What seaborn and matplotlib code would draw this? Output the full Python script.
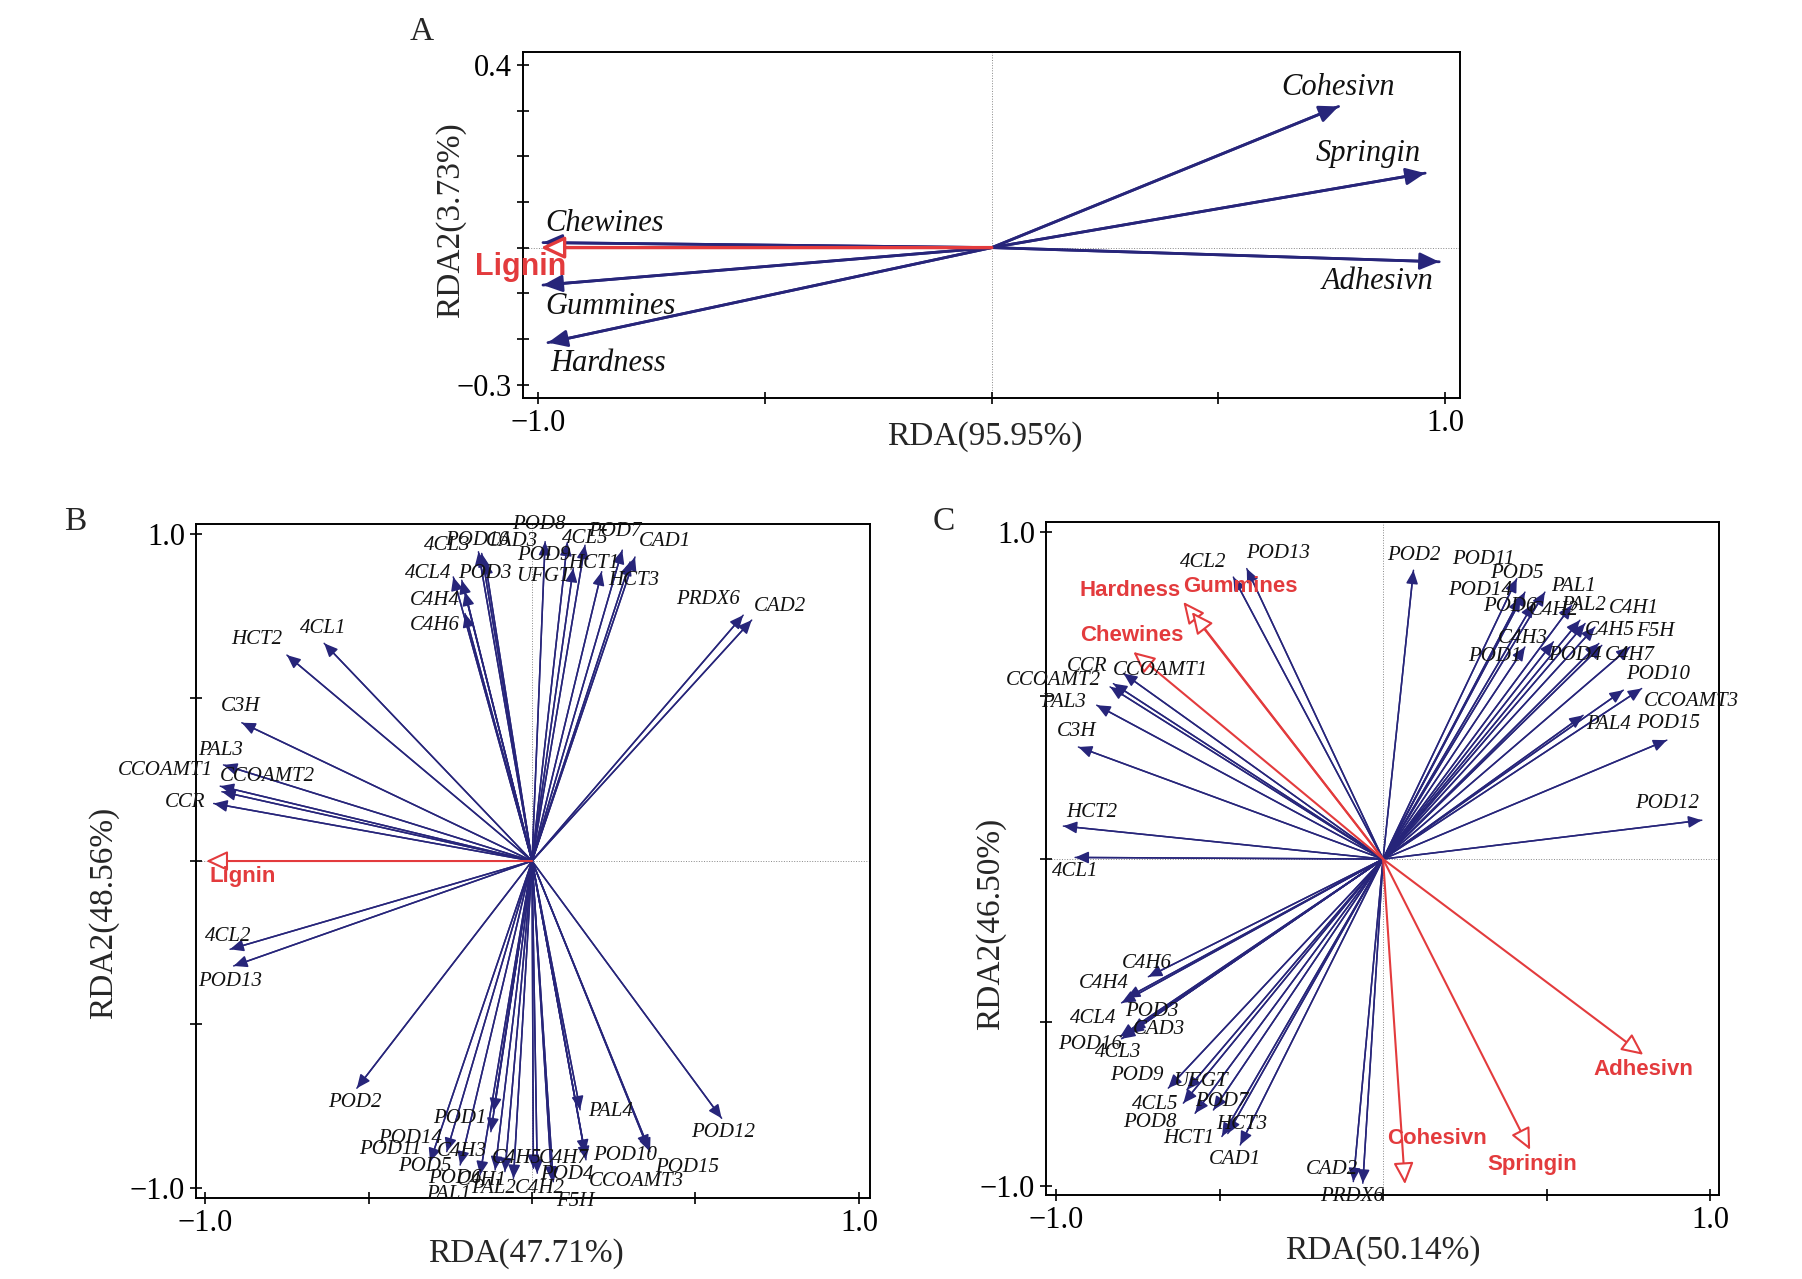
import pandas as pd
import matplotlib
matplotlib.use('Agg')
import matplotlib.pyplot as plt
import seaborn as sns

NAVY = '#27257a'
RED = '#e33b3d'

# ---------------- Panel A ----------------
a_names = ['Cohesivn', 'Springin', 'Adhesivn', 'Chewines', 'Gummines', 'Hardness']
a_x = [0.765, 0.956, 0.987, -0.99, -0.99, -0.979]
a_y = [0.309, 0.163, -0.031, 0.011, -0.082, -0.208]
a_lab_x = [0.764, 0.83, 0.852, -0.854, -0.842, -0.846]
a_lab_y = [0.35, 0.206, -0.075, 0.053, -0.13, -0.254]
a_red_names = ['Lignin']
a_red_x = [-0.995]
a_red_y = [0.0]
a_red_lab_x = [-1.04]
a_red_lab_y = [-0.042]

# ---------------- Panel B ----------------
b_names = ['HCT2', '4CL1', 'C3H', 'PAL3', 'CCOAMT1', 'CCOAMT2', 'CCR', '4CL2', 'POD13',
           '4CL4', 'POD3', 'C4H4', 'C4H6', '4CL3', 'POD16', 'CAD3', 'POD8', 'POD9',
           '4CL5', 'UFGT', 'HCT1', 'POD7', 'CAD1', 'HCT3', 'PRDX6', 'CAD2',
           'POD2', 'POD12', 'POD10', 'POD15', 'PAL4', 'C4H7', 'CCOAMT3', 'POD4',
           'F5H', 'C4H2', 'C4H5', 'PAL2', 'C4H1', 'POD6', 'PAL1', 'POD5', 'C4H3',
           'POD1', 'POD14', 'POD11']
b_x = [-0.750, -0.636, -0.888, -0.944, -0.954, -0.949, -0.974, -0.924, -0.913,
       -0.241, -0.215, -0.205, -0.205, -0.164, -0.154, -0.144, 0.040, 0.108,
       0.162, 0.126, 0.213, 0.276, 0.315, 0.300, 0.646, 0.672,
       -0.536, 0.580, 0.361, 0.355, 0.147, 0.162, 0.165, 0.065,
       0.060, 0.004, 0.016, -0.057, -0.083, -0.113, -0.159, -0.220, -0.126,
       -0.118, -0.261, -0.312]
b_y = [0.630, 0.666, 0.423, 0.294, 0.229, 0.212, 0.176, -0.270, -0.321,
       0.869, 0.859, 0.823, 0.757, 0.946, 0.941, 0.920, 0.977, 0.975,
       0.966, 0.895, 0.885, 0.951, 0.930, 0.915, 0.752, 0.737,
       -0.695, -0.787, -0.889, -0.880, -0.761, -0.894, -0.914, -0.981,
       -0.976, -0.940, -0.955, -0.971, -0.950, -0.945, -0.960, -0.930, -0.828,
       -0.767, -0.889, -0.920]
b_lab_x = [-0.842, -0.638, -0.893, -0.954, -1.122, -0.811, -1.061, -0.929, -0.924,
           -0.317, -0.144, -0.297, -0.297, -0.261, -0.169, -0.062, 0.022, 0.035,
           0.162, 0.035, 0.188, 0.254, 0.407, 0.310, 0.540, 0.760,
           -0.541, 0.585, 0.284, 0.473, 0.239, 0.096, 0.320, 0.106,
           0.131, 0.024, -0.047, -0.118, -0.154, -0.235, -0.256, -0.327, -0.215,
           -0.220, -0.373, -0.434]
b_lab_y = [0.679, 0.711, 0.472, 0.339, 0.278, 0.260, 0.178, -0.231, -0.369,
           0.879, 0.879, 0.798, 0.722, 0.966, 0.982, 0.977, 1.031, 0.936,
           0.987, 0.869, 0.910, 1.007, 0.977, 0.859, 0.800, 0.780,
           -0.739, -0.831, -0.902, -0.938, -0.765, -0.910, -0.981, -0.960,
           -1.042, -1.001, -0.910, -1.001, -0.976, -0.971, -1.021, -0.935, -0.889,
           -0.787, -0.848, -0.882]
b_red_names = ['Lignin']
b_red_x = [-0.997]
b_red_y = [0.0]
b_red_lab_x = [-0.885]
b_red_lab_y = [-0.048]

# ---------------- Panel C ----------------
c_names = ['4CL2', 'POD13', 'POD2', 'POD11', 'POD5', 'POD14', 'PAL1', 'POD6', 'C4H2',
           'PAL2', 'C4H1', 'C4H3', 'C4H5', 'F5H', 'POD1', 'POD4', 'C4H7', 'POD10',
           'CCOAMT3', 'PAL4', 'POD15', 'POD12', 'CCR', 'CCOAMT1', 'CCOAMT2', 'PAL3',
           'C3H', 'HCT2', '4CL1', 'C4H6', 'C4H4', '4CL4', 'POD3', 'CAD3', 'POD16',
           '4CL3', 'POD9', 'UFGT', '4CL5', 'POD7', 'POD8', 'HCT1', 'HCT3', 'CAD1',
           'CAD2', 'PRDX6']
c_x = [-0.458, -0.417, 0.093, 0.409, 0.434, 0.420, 0.495, 0.460, 0.577,
       0.602, 0.618, 0.521, 0.648, 0.660, 0.434, 0.669, 0.755, 0.735,
       0.791, 0.612, 0.868, 0.975, -0.794, -0.825, -0.835, -0.876,
       -0.932, -0.978, -0.942, -0.718, -0.785, -0.800, -0.774, -0.770, -0.804,
       -0.800, -0.657, -0.600, -0.611, -0.519, -0.575, -0.493, -0.475, -0.437,
       -0.091, -0.062]
c_y = [0.863, 0.889, 0.884, 0.858, 0.817, 0.800, 0.817, 0.782, 0.777,
       0.731, 0.721, 0.665, 0.710, 0.660, 0.649, 0.654, 0.649, 0.517,
       0.522, 0.440, 0.364, 0.119, 0.568, 0.537, 0.527, 0.471,
       0.343, 0.101, 0.005, -0.360, -0.425, -0.440, -0.533, -0.525, -0.543,
       -0.550, -0.701, -0.706, -0.747, -0.768, -0.778, -0.849, -0.840, -0.875,
       -0.987, -0.992]
c_lab_x = [-0.550, -0.320, 0.093, 0.307, 0.409, 0.297, 0.582, 0.388, 0.521,
           0.612, 0.766, 0.429, 0.694, 0.832, 0.343, 0.587, 0.755, 0.842,
           0.944, 0.689, 0.872, 0.868, -0.906, -0.682, -1.008, -0.978,
           -0.937, -0.891, -0.942, -0.723, -0.855, -0.886, -0.707, -0.687, -0.896,
           -0.809, -0.753, -0.560, -0.697, -0.493, -0.713, -0.595, -0.432, -0.453,
           -0.157, -0.096]
c_lab_y = [0.909, 0.935, 0.930, 0.917, 0.874, 0.823, 0.833, 0.774, 0.761,
           0.777, 0.767, 0.675, 0.700, 0.695, 0.619, 0.624, 0.624, 0.566,
           0.481, 0.413, 0.415, 0.170, 0.588, 0.578, 0.547, 0.478,
           0.389, 0.142, -0.039, -0.319, -0.380, -0.487, -0.467, -0.523, -0.569,
           -0.592, -0.661, -0.681, -0.752, -0.742, -0.806, -0.854, -0.813, -0.920,
           -0.949, -1.033]
c_red_names = ['Hardness', 'Gummines', 'Chewines', 'Adhesivn', 'Springin', 'Cohesivn']
c_red_x = [-0.611, -0.585, -0.764, 0.796, 0.450, 0.067]
c_red_y = [0.787, 0.756, 0.634, -0.599, -0.890, -0.995]
c_red_lab_x = [-0.774, -0.437, -0.769, 0.796, 0.455, 0.164]
c_red_lab_y = [0.823, 0.833, 0.685, -0.645, -0.936, -0.854]

sns.set_theme(style='white')
plt.rcParams['font.family'] = ['Liberation Serif', 'DejaVu Serif']
plt.rcParams['axes.unicode_minus'] = True

fig = plt.figure(figsize=(18.02, 12.79), dpi=100)
axA = fig.add_axes([0.290, 0.689, 0.520, 0.2705])
axB = fig.add_axes([0.1088, 0.0633, 0.374, 0.527])
axC = fig.add_axes([0.5805, 0.0657, 0.3735, 0.526])


def draw_panel(ax, names, xs, ys, lxs, lys, rnames, rxs, rys, rlxs, rlys,
               gene_size, red_size, head_scale, red_scale, lw):
    # arrow shafts through seaborn, one unit per variable
    seg = pd.DataFrame({
        'name': [n for n in names for _ in range(2)],
        'x': [v for x in xs for v in (0.0, x)],
        'y': [v for y in ys for v in (0.0, y)],
    })
    sns.lineplot(data=seg, x='x', y='y', units='name', estimator=None, sort=False,
                 color=NAVY, lw=lw, ax=ax, legend=False)
    for n, x, y, lx, ly in zip(names, xs, ys, lxs, lys):
        ax.annotate('', xy=(x, y), xytext=(0, 0),
                    arrowprops=dict(arrowstyle='-|>,head_length=0.45,head_width=0.2',
                                    color=NAVY, lw=lw, shrinkA=0, shrinkB=0,
                                    mutation_scale=head_scale))
        ax.text(lx, ly, n, ha='center', va='center', fontsize=gene_size,
                style='italic', color='#111111', clip_on=False, zorder=5)
    for n, x, y, lx, ly in zip(rnames, rxs, rys, rlxs, rlys):
        ax.annotate('', xy=(x, y), xytext=(0, 0),
                    arrowprops=dict(arrowstyle='-|>,head_length=0.6,head_width=0.28',
                                    fc='white', ec=RED, lw=lw + 0.4, shrinkA=0, shrinkB=0,
                                    mutation_scale=red_scale), zorder=4)
        ax.text(lx, ly, n, ha='center', va='center', fontsize=red_size,
                fontweight='bold', family=['Liberation Sans', 'DejaVu Sans'],
                color=RED, clip_on=False, zorder=6)
    ax.axhline(0, color='#888888', lw=0.7, ls=':', zorder=0)
    ax.axvline(0, color='#888888', lw=0.7, ls=':', zorder=0)
    for s in ax.spines.values():
        s.set_visible(True)
        s.set_color('black')
        s.set_linewidth(1.4)
    ax.tick_params(direction='inout', length=8, width=1.2, colors='black',
                   labelsize=22, pad=4, bottom=True, left=True)


draw_panel(axA, a_names, a_x, a_y, a_lab_x, a_lab_y,
           a_red_names, a_red_x, a_red_y, a_red_lab_x, a_red_lab_y,
           gene_size=22, red_size=22, head_scale=26, red_scale=24, lw=2.0)
draw_panel(axB, b_names, b_x, b_y, b_lab_x, b_lab_y,
           b_red_names, b_red_x, b_red_y, b_red_lab_x, b_red_lab_y,
           gene_size=15, red_size=16, head_scale=18, red_scale=22, lw=1.1)
draw_panel(axC, c_names, c_x, c_y, c_lab_x, c_lab_y,
           c_red_names, c_red_x, c_red_y, c_red_lab_x, c_red_lab_y,
           gene_size=15, red_size=16, head_scale=18, red_scale=22, lw=1.1)

# axis ranges and ticks
axA.set_xlim(-1.035, 1.032)
axA.set_ylim(-0.3287, 0.4286)
axA.set_xticks([-1, -0.5, 0, 0.5, 1])
axA.set_xticklabels(['\u22121.0', '', '', '', '1.0'])
axA.set_yticks([-0.3, -0.2, -0.1, 0, 0.1, 0.2, 0.3, 0.4])
axA.set_yticklabels(['\u22120.3', '', '', '', '', '', '', '0.4'])

axB.set_xlim(-1.028, 1.034)
axB.set_ylim(-1.031, 1.031)
axC.set_xlim(-1.031, 1.028)
axC.set_ylim(-1.028, 1.031)
for ax in (axB, axC):
    ax.set_xticks([-1, -0.5, 0, 0.5, 1])
    ax.set_xticklabels(['\u22121.0', '', '', '', '1.0'])
    ax.set_yticks([-1, -0.5, 0, 0.5, 1])
    ax.set_yticklabels(['\u22121.0', '', '', '', '1.0'])

# axis titles
labels = [(axA, 'RDA(95.95%)', 'RDA2(3.73%)', (0.493, -0.113), (-0.077, 0.514)),
          (axB, 'RDA(47.71%)', 'RDA2(48.56%)', (0.49, -0.082), (-0.137, 0.423)),
          (axC, 'RDA(50.14%)', 'RDA2(46.50%)', (0.50, -0.082), (-0.082, 0.403))]
for ax, xl, yl, xc, yc in labels:
    ax.set_xlabel(xl, fontsize=24)
    ax.set_ylabel(yl, fontsize=24)
    ax.xaxis.label.set_va('center')
    ax.yaxis.label.set_va('center')
    ax.xaxis.set_label_coords(*xc)
    ax.yaxis.set_label_coords(*yc)

fig.text(0.234, 0.975, 'A', fontsize=24, ha='center', va='center')
fig.text(0.0416, 0.592, 'B', fontsize=24, ha='center', va='center')
fig.text(0.524, 0.592, 'C', fontsize=24, ha='center', va='center')

fig.savefig('out.png', dpi=100, facecolor='white')
